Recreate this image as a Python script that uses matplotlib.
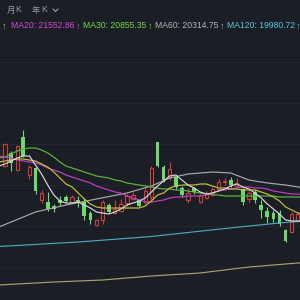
import numpy as np
import matplotlib
matplotlib.use("Agg")
import matplotlib.pyplot as plt
from matplotlib.lines import Line2D

# candle data (index 0..48), red hollow = up, green filled = down
opens = [21340, 21470, 21300, 21630, 21250, 21320, 21000, 20980, 20940, 21000,
         21030, 20980, 21000, 20980, 20870, 20750, 20800, 20950, 20870, 20890,
         20970, 21010, 21000, 20980, 21030, 21580, 21330, 21220, 21230, 21120,
         21000, 21120, 20980, 21020, 21060, 21110, 21180, 21200, 21140, 21110,
         21010, 21080, 20950, 20890, 20870, 20870, 20700, 20680, 20790]
closes = [21560, 21370, 21540, 21440, 21330, 21090, 21070, 20910, 20910, 20970,
          20990, 21030, 20970, 20840, 20800, 20800, 20980, 20880, 20910, 20960,
          21040, 21050, 20940, 21090, 21320, 21340, 21200, 21310, 21130, 21050,
          21070, 21080, 21050, 21070, 21110, 21180, 21190, 21150, 21170, 20980,
          21070, 21000, 20900, 20830, 20810, 20760, 20590, 20860, 20860]
highs = [21570, 21490, 21550, 21700, 21350, 21330, 21100, 21080, 20960, 21040,
         21050, 21050, 21040, 21020, 20890, 20810, 21000, 20970, 21000, 21010,
         21060, 21080, 21010, 21120, 21340, 21580, 21350, 21380, 21240, 21140,
         21120, 21130, 21060, 21090, 21130, 21210, 21220, 21230, 21220, 21120,
         21090, 21100, 21000, 20930, 20900, 20900, 20710, 20880, 20880]
lows = [21330, 21290, 21290, 21430, 21210, 21060, 20970, 20890, 20880, 20940,
        20980, 20970, 20930, 20800, 20760, 20740, 20760, 20870, 20860, 20880,
        20940, 21000, 20930, 20960, 21000, 21330, 21180, 21200, 21110, 21030,
        20970, 21060, 20970, 21010, 21040, 21100, 21150, 21130, 21130, 20950,
        20980, 20970, 20820, 20770, 20780, 20740, 20580, 20670, 20780]

# moving averages, index -1..49
ma_idx = list(range(-1, 50))
ma5 = [21340, 21360, 21390, 21420, 21440, 21440, 21350, 21260, 21150, 21050,
       20990, 20970, 20970, 20980, 20950, 20920, 20880, 20870, 20860, 20880,
       20910, 20950, 20970, 20990, 21020, 21080, 21140, 21190, 21240, 21250,
       21200, 21150, 21120, 21080, 21060, 21070, 21090, 21110, 21140, 21160,
       21130, 21110, 21070, 21020, 20960, 20910, 20860, 20800, 20790, 20790, 20790]
ma10 = [21380, 21390, 21400, 21410, 21410, 21400, 21390, 21360, 21330, 21280,
        21220, 21160, 21130, 21070, 21010, 20960, 20930, 20920, 20920, 20920,
        20920, 20920, 20920, 20920, 20940, 20990, 21050, 21070, 21120, 21140,
        21150, 21150, 21150, 21160, 21160, 21140, 21120, 21120, 21110, 21110,
        21100, 21100, 21100, 21080, 21060, 21030, 20990, 20930, 20900, 20870, 20860]
ma20 = [21440, 21430, 21420, 21400, 21390, 21380, 21370, 21350, 21320, 21300,
        21280, 21250, 21230, 21210, 21190, 21170, 21140, 21120, 21100, 21080,
        21070, 21040, 21020, 21000, 20980, 20980, 20990, 21000, 21020, 21030,
        21030, 21040, 21040, 21040, 21050, 21070, 21090, 21100, 21110, 21120,
        21130, 21130, 21120, 21120, 21110, 21090, 21080, 21070, 21060, 21060, 21050]
ma30 = [21420, 21430, 21460, 21490, 21510, 21520, 21520, 21500, 21470, 21430,
        21380, 21340, 21320, 21300, 21280, 21260, 21240, 21230, 21220, 21200,
        21190, 21170, 21160, 21150, 21140, 21130, 21120, 21110, 21110, 21100,
        21100, 21090, 21080, 21070, 21060, 21050, 21050, 21040, 21040, 21040,
        21040, 21040, 21040, 21040, 21040, 21040, 21030, 21030, 21030, 21030, 21030]
ma60_idx = [-1, 5, 10, 15, 20, 24, 27, 30, 34, 37, 40, 43, 46, 49]
ma60 = [20730, 20880, 20950, 21010, 21070, 21140, 21220, 21260, 21280, 21270,
        21200, 21170, 21150, 21120]
ma120_idx = [-1, 12, 24, 33, 40, 45, 49]
ma120 = [20535, 20580, 20635, 20695, 20740, 20770, 20790]
ma250_idx = [-1, 8, 16, 24, 32, 40, 49]
ma250 = [20150, 20180, 20200, 20240, 20270, 20330, 20375]

grid_levels = [22380, 21970, 21560, 21150, 20740, 20330]

legend_items = [("MA20: 21552.86", "#d845d8"), ("MA30: 20855.35", "#72d64c"),
                ("MA60: 20314.75", "#b4b4b4"), ("MA120: 19980.72", "#5cc6de")]

bg = "#1b1e25"
red = "#c8403c"
green = "#6fd870"

fig = plt.figure(figsize=(3, 3), dpi=100, facecolor=bg)
ax = fig.add_axes([0, 0, 1, 1], facecolor=bg)

x = np.arange(len(opens))
o = np.array(opens)
c = np.array(closes)
up = c >= o

# wicks
ax.vlines(x[up], np.array(lows)[up], np.array(highs)[up], color=red, lw=0.8, zorder=2)
ax.vlines(x[~up], np.array(lows)[~up], np.array(highs)[~up], color=green, lw=0.8, zorder=2)
# bodies
ax.bar(x[up], (c - o)[up], bottom=o[up], width=0.55, facecolor=bg,
       edgecolor=red, linewidth=0.8, zorder=3)
ax.bar(x[~up], (o - c)[~up], bottom=c[~up], width=0.6, color=green,
       linewidth=0, zorder=3)

lw = 0.85
ax.plot(ma250_idx, ma250, color="#a6a26c", lw=lw, zorder=4)
ax.plot(ma120_idx, ma120, color="#4ba6bd", lw=lw, zorder=4)
ax.plot(ma60_idx, ma60, color="#a9a9a9", lw=lw, zorder=4)
ax.plot(ma_idx, ma30, color="#5cb83c", lw=lw, zorder=4)
ax.plot(ma_idx, ma20, color="#c23ec6", lw=lw, zorder=4)
ax.plot(ma_idx, ma10, color="#c8c03a", lw=lw, zorder=4)
ax.plot(ma_idx, ma5, color="#d8d8d8", lw=lw, zorder=5)

ax.set_xlim(-0.82, 48.36)
ax.set_ylim(20000, 23000)
ax.set_yticks(grid_levels)
ax.set_xticks([])
ax.tick_params(length=0, labelleft=False)
ax.grid(axis="y", color="#23272f", lw=0.8)
for s in ax.spines.values():
    s.set_visible(False)

# header
cjk = ["Noto Sans CJK SC", "DejaVu Sans"]
hy = 1 - 10 / 300
fig.text(6.5 / 300, hy, "月", color="#9a9ca3", fontsize=6, family=cjk, va="center")
fig.text(15 / 300, hy, "K", color="#9a9ca3", fontsize=6.5, family=["Liberation Sans"], va="center")
fig.text(32 / 300, hy, "年", color="#9a9ca3", fontsize=6, family=cjk, va="center")
fig.text(41.5 / 300, hy, "K", color="#9a9ca3", fontsize=6.5, family=["Liberation Sans"], va="center")
fig.add_artist(Line2D([53 / 300, 55.5 / 300, 58 / 300],
                      [1 - 9 / 300, 1 - 11.5 / 300, 1 - 9 / 300],
                      color="#9a9ca3", lw=0.8))

# MA legend row
fam = ["Liberation Sans", "DejaVu Sans"]
ly = 1 - 26 / 300
fig.text(1.5 / 300, ly, "↑", color="#d8c84a", fontsize=6.2, family=fam, va="center")
pos = [(10.7, 75.5), (82.7, 147.5), (155, 219.5), (226.7, 296)]
for (label, col), (tx, ax_) in zip(legend_items, pos):
    fig.text(tx / 300, ly, label, color=col, fontsize=6.2, family=fam, va="center")
    fig.text(ax_ / 300, ly, "↑", color=col, fontsize=6.2, family=fam, va="center")

fig.savefig("out.png", dpi=100, facecolor=bg)
